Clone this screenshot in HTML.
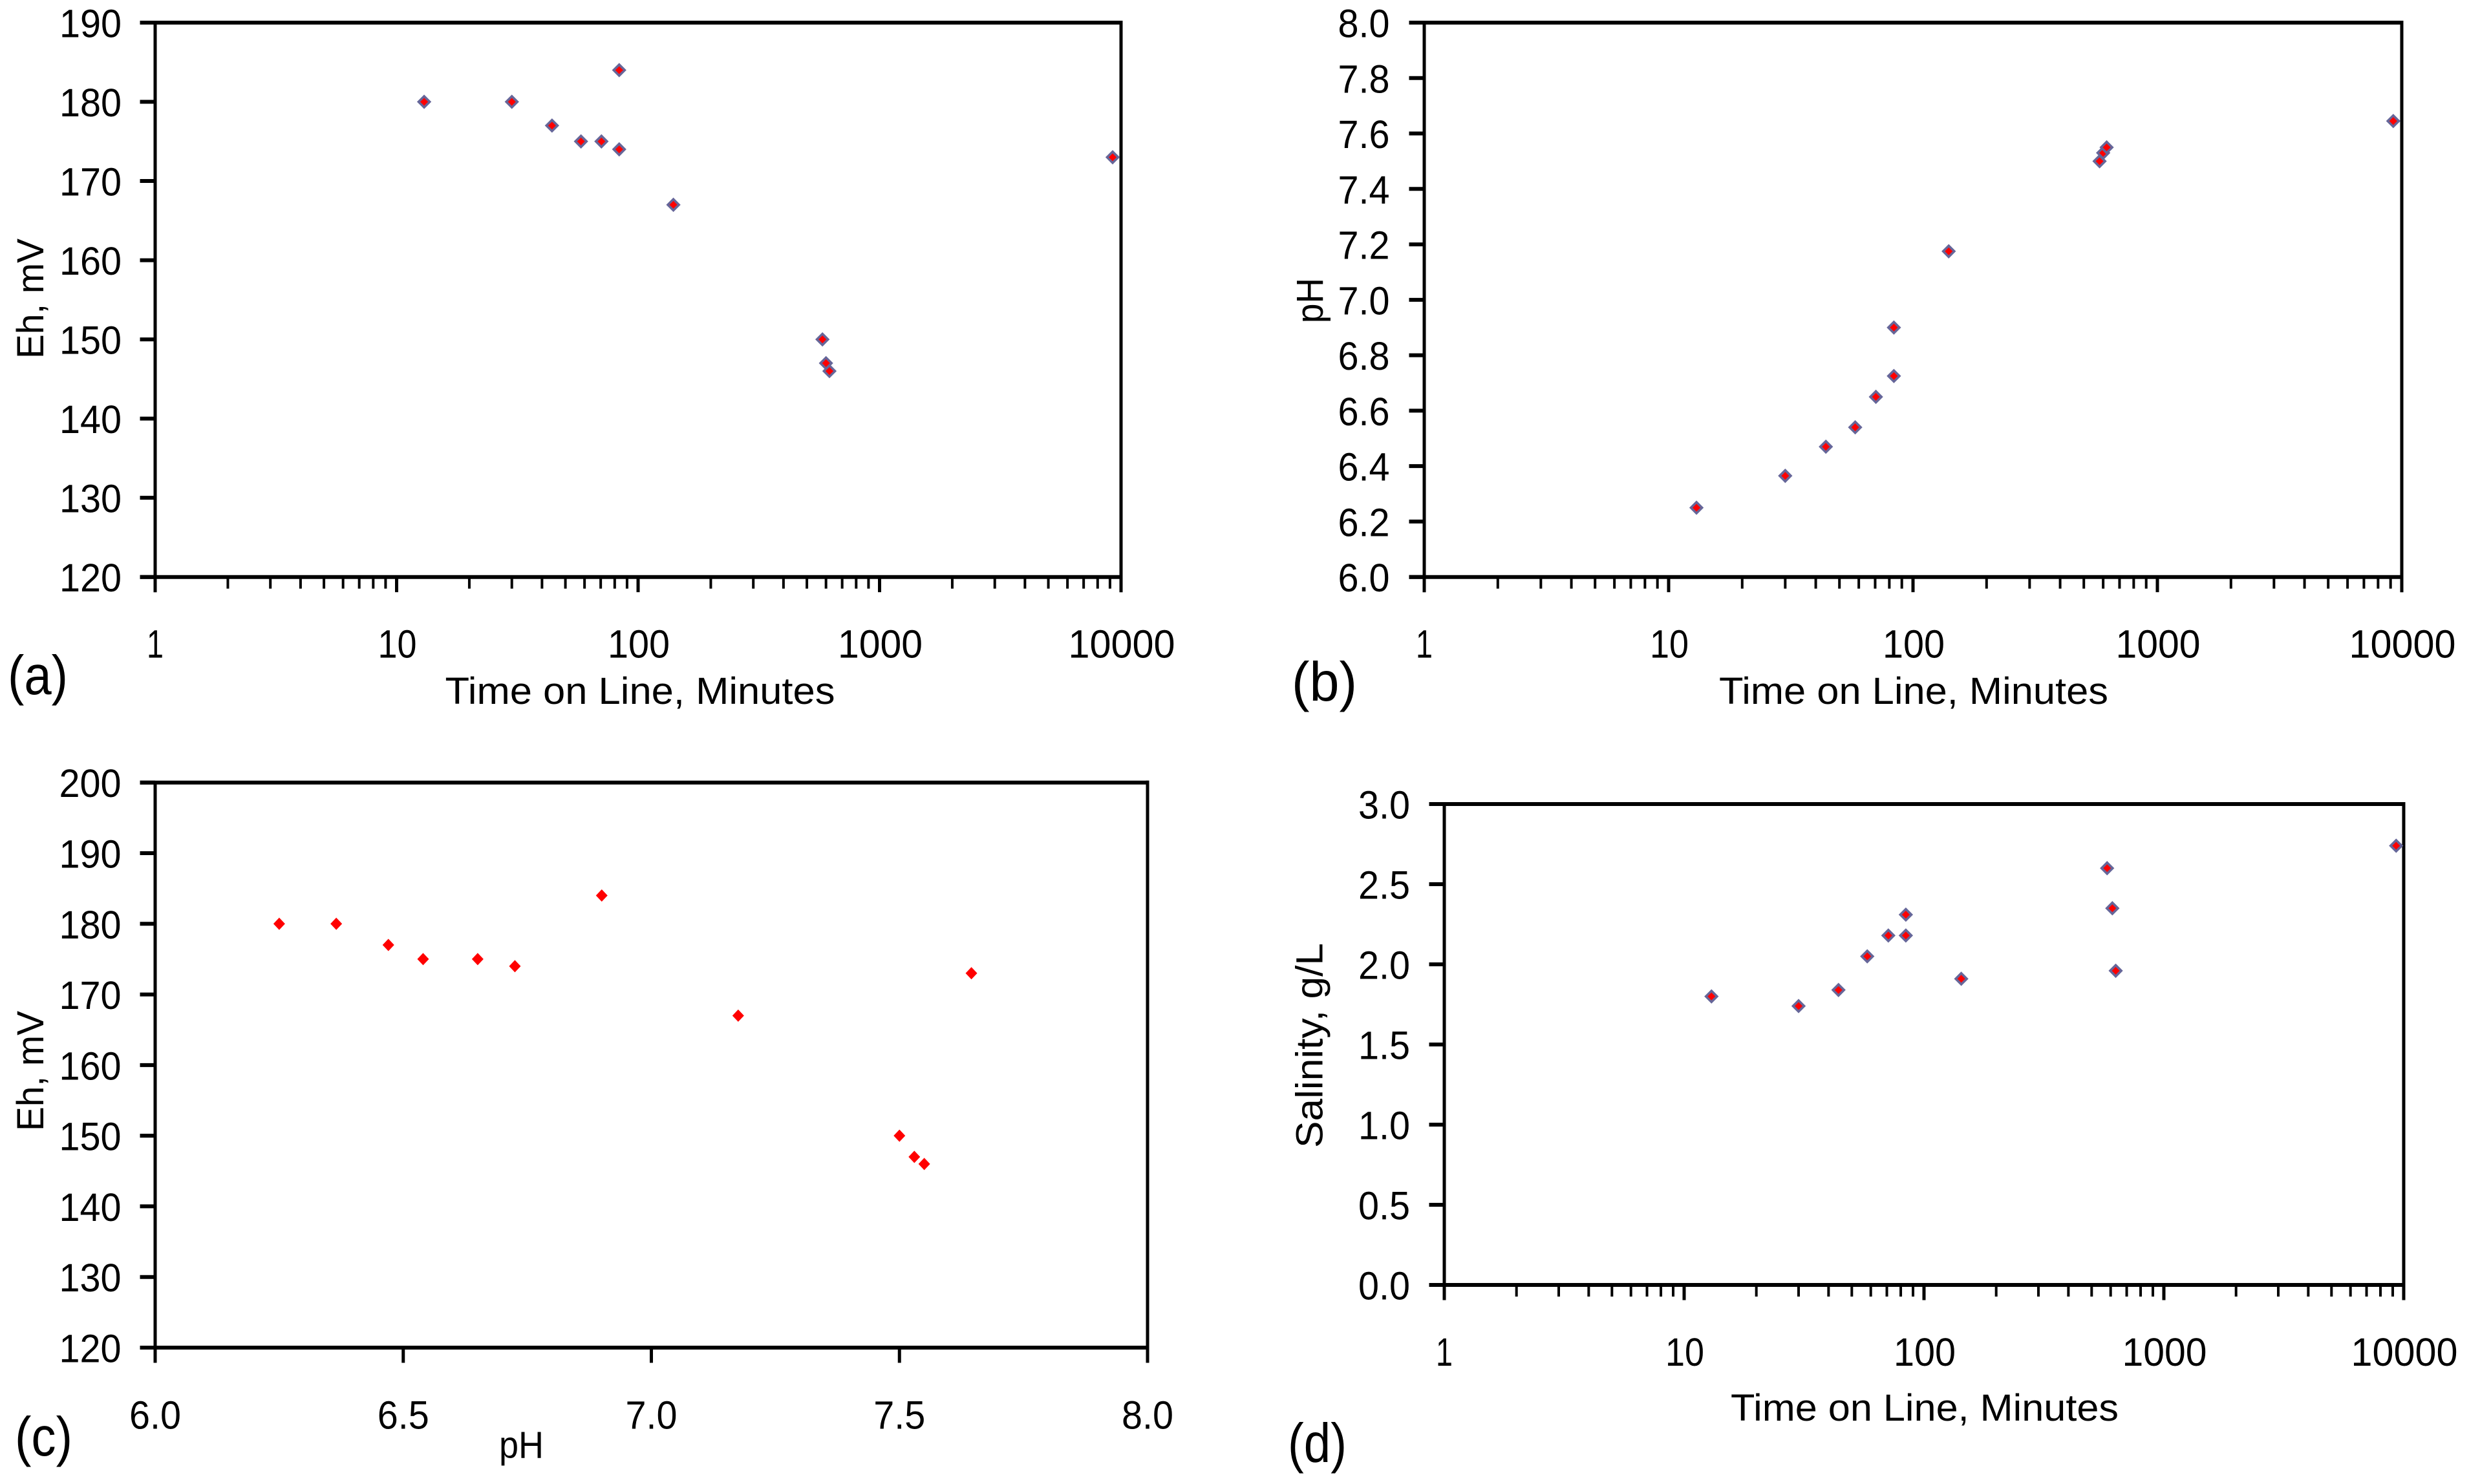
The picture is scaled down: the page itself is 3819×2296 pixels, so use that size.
<!DOCTYPE html>
<html lang="en">
<head>
<meta charset="utf-8">
<title>Eh, pH and salinity charts</title>
<style>
  html, body { margin: 0; padding: 0; background: #ffffff; }
  svg { display: block; }
  text { font-family: "Liberation Sans", sans-serif; fill: #000000; }
</style>
</head>
<body>
<svg id="figure" xmlns="http://www.w3.org/2000/svg" width="3819" height="2296" viewBox="0 0 3819 2296"></svg>
<script>
// Data
const timeMinutes = [13, 30, 44, 58, 70.5, 83.5, 83.5, 140, 580, 600, 620, 9230];
const timeMinutesSalinity = [13, 30, 44, 58, 71, 84, 84, 143, 580, 610, 630, 9300];
const ehValues = [180, 180, 177, 175, 175, 174, 184, 167, 150, 147, 146, 173];
const phValues = [6.25, 6.365, 6.47, 6.54, 6.65, 6.725, 6.9, 7.175, 7.5, 7.53, 7.55, 7.645];
const salinityValues = [1.8, 1.74, 1.84, 2.05, 2.18, 2.18, 2.31, 1.91, 2.6, 2.35, 1.96, 2.74];

// Tick labels
const logTickLabels = ["1", "10", "100", "1000", "10000"];
const ehTickLabelsA = ["120", "130", "140", "150", "160", "170", "180", "190"];
const ehTickLabelsC = ["120", "130", "140", "150", "160", "170", "180", "190", "200"];
const phTickLabelsY = ["6.0", "6.2", "6.4", "6.6", "6.8", "7.0", "7.2", "7.4", "7.6", "7.8", "8.0"];
const phTickLabelsX = ["6.0", "6.5", "7.0", "7.5", "8.0"];
const salinityTickLabels = ["0.0", "0.5", "1.0", "1.5", "2.0", "2.5", "3.0"];

const SVG_NS = "http://www.w3.org/2000/svg";
const figure = document.getElementById("figure");

function makeLine(parent, x1, y1, x2, y2, width, cap) {
  const el = document.createElementNS(SVG_NS, "line");
  el.setAttribute("x1", x1);
  el.setAttribute("y1", y1);
  el.setAttribute("x2", x2);
  el.setAttribute("y2", y2);
  el.setAttribute("stroke", "#000000");
  el.setAttribute("stroke-width", width);
  el.setAttribute("stroke-linecap", cap || "butt");
  parent.appendChild(el);
  return el;
}

function makeText(parent, str, x, y, size, anchor, length, rotate) {
  const el = document.createElementNS(SVG_NS, "text");
  el.textContent = str;
  el.setAttribute("font-size", size);
  el.setAttribute("text-anchor", anchor);
  if (rotate) {
    el.setAttribute("transform", "translate(" + x + " " + y + ") rotate(-90)");
  } else {
    el.setAttribute("x", x);
    el.setAttribute("y", y);
  }
  if (length) {
    el.setAttribute("textLength", length);
    el.setAttribute("lengthAdjust", "spacingAndGlyphs");
  }
  parent.appendChild(el);
  return el;
}

function labelWidth(str) {
  if (str.indexOf(".") >= 0) return 80;
  const widths = { 1: 26, 2: 60, 3: 96, 4: 131, 5: 165 };
  return widths[str.length];
}

function makeLogAxis(left, right) {
  const decades = logTickLabels.length - 1;
  return function (v) {
    return left + (Math.log10(v) / decades) * (right - left);
  };
}

function makeLinearAxis(min, max, start, end) {
  return function (v) {
    return start + ((v - min) / (max - min)) * (end - start);
  };
}

function drawDiamond(parent, cx, cy, rx, ry, outlined) {
  const el = document.createElementNS(SVG_NS, "polygon");
  el.setAttribute("points", [cx, cy - ry, cx + rx, cy, cx, cy + ry, cx - rx, cy].join(" "));
  el.setAttribute("fill", "#ff0000");
  if (outlined) {
    el.setAttribute("stroke", "#666699");
    el.setAttribute("stroke-width", "3.6");
    el.setAttribute("stroke-linejoin", "miter");
  }
  parent.appendChild(el);
  return el;
}

function drawPanel(cfg) {
  const g = document.createElementNS(SVG_NS, "g");
  
  
  figure.appendChild(g);

  const L = cfg.left, R = cfg.right, T = cfg.top, B = cfg.bottom;
  const tickStart = L - 23.5;
  const yScale = makeLinearAxis(parseFloat(cfg.yLabels[0]), parseFloat(cfg.yLabels[cfg.yLabels.length - 1]), B, T);

  // Plot frame
  const frameTop = makeLine(g, tickStart, T, R + 2.5, T, 6);
  
  
  const frameRight = makeLine(g, R, T - 3, R, B + 23.5, 5);
  
  
  const frameLeft = makeLine(g, L, T, L, B + 23.5, 5);
  
  
  const frameBottom = makeLine(g, tickStart, B, R, B, 6);
  
  

  // Y ticks and labels
  cfg.yLabels.forEach(function (lab) {
    const y = yScale(parseFloat(lab));
    const tick = makeLine(g, tickStart, y, L, y, 6);
    
    
    const t = makeText(g, lab, cfg.yLabelRight, y + 22.5, 61, "end", labelWidth(lab));
    
    
  });

  // X ticks and labels
  if (cfg.xLog) {
    const xScale = makeLogAxis(L, R);
    logTickLabels.forEach(function (lab, i) {
      const base = parseFloat(lab);
      const x = xScale(base);
      const major = makeLine(g, x, B, x, B + 23.5, 5);
      
      
      if (i < logTickLabels.length - 1) {
        for (let m = 2; m <= 9; m++) {
          const mx = xScale(base * m);
          const minor = makeLine(g, mx, B, mx, B + 18, 4);
          
          
        }
      }
      const t = makeText(g, lab, x + (i === 0 ? 0 : 1), cfg.xLabelBaseline, 61, "middle", labelWidth(lab));
      
      
    });
  } else {
    const xLin = makeLinearAxis(parseFloat(cfg.xLabels[0]), parseFloat(cfg.xLabels[cfg.xLabels.length - 1]), L, R);
    cfg.xLabels.forEach(function (lab) {
      const x = xLin(parseFloat(lab));
      const major = makeLine(g, x, B, x, B + 23.5, 5);
      
      
      const t = makeText(g, lab, x, cfg.xLabelBaseline, 61, "middle", labelWidth(lab));
      
      
    });
  }

  // Titles
  const xt = makeText(g, cfg.xTitle, cfg.xTitleX, cfg.xTitleY, 58, "middle", cfg.xTitleLen);
  
  
  const yt = makeText(g, cfg.yTitle, cfg.yTitleX, cfg.yTitleY, 58, "middle", cfg.yTitleLen, true);
  
  
  const pl = makeText(g, cfg.tag, cfg.tagX, cfg.tagY, 85, "start", cfg.tagLen);
  
  

  // Points
  const xMark = cfg.xLog
    ? makeLogAxis(L, R)
    : makeLinearAxis(parseFloat(cfg.xLabels[0]), parseFloat(cfg.xLabels[cfg.xLabels.length - 1]), L, R);
  cfg.xs.forEach(function (xv, i) {
    const mark = cfg.outlined
      ? drawDiamond(g, xMark(xv), yScale(cfg.ys[i]), 8.6, 8.6, true)
      : drawDiamond(g, xMark(xv), yScale(cfg.ys[i]), 9, 9.5, false);
    
    
  });
}

drawPanel({
  name: "panel-a-eh-vs-time", tag: "(a)", tagX: 12, tagY: 1074, tagLen: 93,
  left: 240, right: 1734, top: 35, bottom: 892.7, yLabelRight: 188,
  yLabels: ehTickLabelsA, xLog: true, xLabelBaseline: 1017.5,
  xTitle: "Time on Line, Minutes", xTitleX: 990, xTitleY: 1089, xTitleLen: 603,
  yTitle: "Eh, mV", yTitleX: 67, yTitleY: 462, yTitleLen: 186,
  xs: timeMinutes, ys: ehValues, outlined: true
});

drawPanel({
  name: "panel-b-ph-vs-time", tag: "(b)", tagX: 1998, tagY: 1084, tagLen: 101,
  left: 2203, right: 3715, top: 35, bottom: 892.7, yLabelRight: 2149.5,
  yLabels: phTickLabelsY, xLog: true, xLabelBaseline: 1017.5,
  xTitle: "Time on Line, Minutes", xTitleX: 2960, xTitleY: 1089, xTitleLen: 602,
  yTitle: "pH", yTitleX: 2046, yTitleY: 465, yTitleLen: 70,
  xs: timeMinutes, ys: phValues, outlined: true
});

drawPanel({
  name: "panel-c-eh-vs-ph", tag: "(c)", tagX: 23, tagY: 2252, tagLen: 89,
  left: 240, right: 1775, top: 1210.7, bottom: 2085, yLabelRight: 187.5,
  yLabels: ehTickLabelsC, xLog: false, xLabels: phTickLabelsX, xLabelBaseline: 2210.5,
  xTitle: "pH", xTitleX: 806.5, xTitleY: 2255.5, xTitleLen: 69,
  yTitle: "Eh, mV", yTitleX: 67, yTitleY: 1657, yTitleLen: 186,
  xs: phValues, ys: ehValues, outlined: false
});

drawPanel({
  name: "panel-d-salinity-vs-time", tag: "(d)", tagX: 1992, tagY: 2262, tagLen: 91,
  left: 2234, right: 3718, top: 1244, bottom: 1988, yLabelRight: 2181,
  yLabels: salinityTickLabels, xLog: true, xLabelBaseline: 2113,
  xTitle: "Time on Line, Minutes", xTitleX: 2977, xTitleY: 2198, xTitleLen: 600,
  yTitle: "Salinity, g/L", yTitleX: 2045.7, yTitleY: 1617.5, yTitleLen: 317,
  xs: timeMinutesSalinity, ys: salinityValues, outlined: true
});
</script>
</body>
</html>
